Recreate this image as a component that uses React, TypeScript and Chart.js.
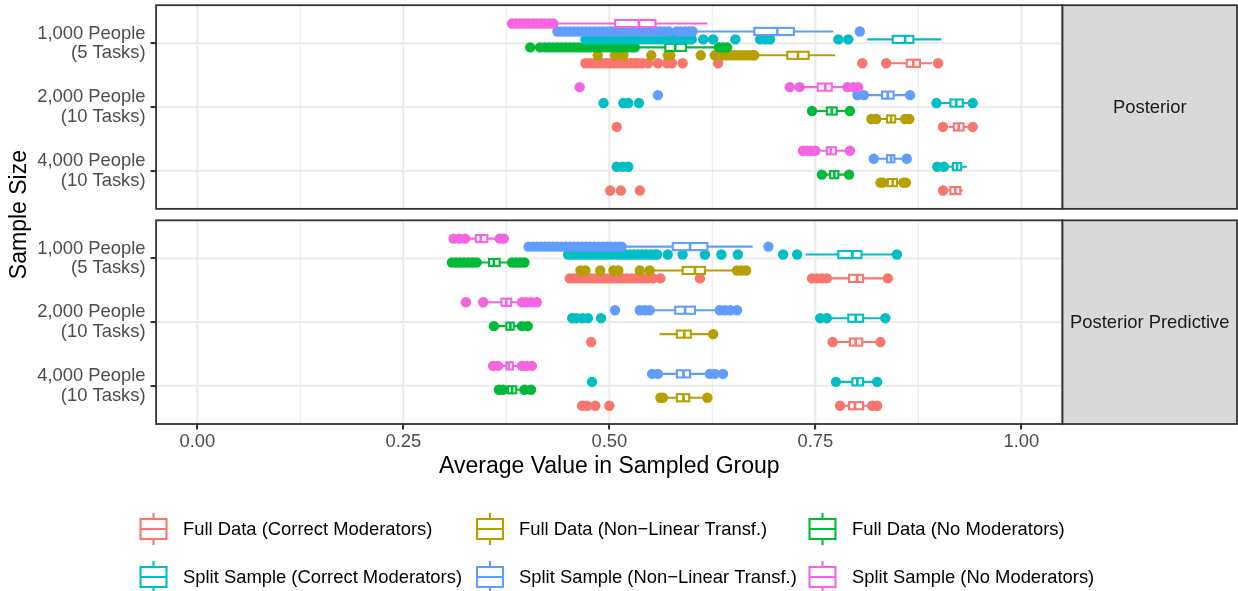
import React, { useEffect, useRef } from "react";
import { Chart, registerables } from "chart.js";

Chart.register(...registerables);

// ---------------- data ----------------
const SAMPLE_SIZES: string[][] = [
  ["1,000 People", "(5 Tasks)"],
  ["2,000 People", "(10 Tasks)"],
  ["4,000 People", "(10 Tasks)"],
];
const PANELS = ["Posterior", "Posterior Predictive"];
const GROUPS = [
  "Full Data (Correct Moderators)",
  "Full Data (Non\u2212Linear Transf.)",
  "Full Data (No Moderators)",
  "Split Sample (Correct Moderators)",
  "Split Sample (Non\u2212Linear Transf.)",
  "Split Sample (No Moderators)",
];
const COLORS = ["#F8766D", "#B79F00", "#00BA38", "#00BFC4", "#619CFF", "#F564E3"];
const X_TICKS = [0, 0.25, 0.5, 0.75, 1];
const X_MINOR = [0.125, 0.375, 0.625, 0.875];
const X_TITLE = "Average Value in Sampled Group";
const Y_TITLE = "Sample Size";

// box stats per sample size: [lower whisker, q1, median, q3, upper whisker]
// ---- Posterior ----
const FULL_CORRECT_POST_BOX = [
  [0.841, 0.861, 0.869, 0.877, 0.892],
  [0.912, 0.918, 0.924, 0.930, 0.935],
  [0.909, 0.914, 0.920, 0.926, 0.929],
];
const FULL_CORRECT_POST_OUT = [
  [0.471, 0.476, 0.481, 0.486, 0.491, 0.496, 0.501, 0.506, 0.511, 0.516, 0.521, 0.526, 0.531, 0.535, 0.540, 0.547, 0.559, 0.570, 0.576, 0.589, 0.632, 0.807, 0.836, 0.899],
  [0.509, 0.905, 0.941],
  [0.501, 0.514, 0.537, 0.905],
];
const FULL_NONLIN_POST_BOX = [
  [0.679, 0.716, 0.729, 0.742, 0.774],
  [0.826, 0.837, 0.842, 0.847, 0.855],
  [0.834, 0.838, 0.844, 0.849, 0.854],
];
const FULL_NONLIN_POST_OUT = [
  [0.486, 0.507, 0.517, 0.551, 0.571, 0.574, 0.611, 0.628, 0.633, 0.638, 0.643, 0.648, 0.653, 0.658, 0.663, 0.668, 0.673, 0.676],
  [0.818, 0.824, 0.859, 0.864],
  [0.829, 0.832, 0.857, 0.860],
];
const FULL_NOMOD_POST_BOX = [
  [0.534, 0.568, 0.580, 0.593, 0.628],
  [0.750, 0.764, 0.770, 0.776, 0.787],
  [0.762, 0.768, 0.773, 0.778, 0.787],
];
const FULL_NOMOD_POST_OUT = [
  [0.404, 0.416, 0.422, 0.427, 0.432, 0.437, 0.442, 0.447, 0.452, 0.457, 0.462, 0.467, 0.472, 0.477, 0.483, 0.488, 0.493, 0.498, 0.503, 0.508, 0.513, 0.518, 0.523, 0.528, 0.531, 0.633, 0.638, 0.643],
  [0.746, 0.792],
  [0.758, 0.791],
];
const SPLIT_CORRECT_POST_BOX = [
  [0.813, 0.844, 0.859, 0.869, 0.903],
  [0.901, 0.914, 0.921, 0.929, 0.936],
  [0.911, 0.917, 0.922, 0.927, 0.934],
];
const SPLIT_CORRECT_POST_OUT = [
  [0.471, 0.476, 0.481, 0.486, 0.491, 0.496, 0.501, 0.506, 0.511, 0.516, 0.521, 0.526, 0.531, 0.536, 0.541, 0.546, 0.551, 0.556, 0.561, 0.566, 0.571, 0.576, 0.581, 0.586, 0.591, 0.596, 0.600, 0.614, 0.626, 0.653, 0.683, 0.689, 0.695, 0.778, 0.790],
  [0.493, 0.517, 0.523, 0.536, 0.897, 0.941],
  [0.509, 0.516, 0.523, 0.898, 0.906],
];
const SPLIT_NONLIN_POST_BOX = [
  [0.605, 0.676, 0.704, 0.724, 0.772],
  [0.811, 0.831, 0.838, 0.845, 0.860],
  [0.825, 0.837, 0.842, 0.846, 0.856],
];
const SPLIT_NONLIN_POST_OUT = [
  [0.437, 0.442, 0.447, 0.452, 0.457, 0.462, 0.467, 0.472, 0.477, 0.482, 0.487, 0.492, 0.497, 0.502, 0.507, 0.512, 0.517, 0.522, 0.527, 0.532, 0.537, 0.542, 0.547, 0.552, 0.557, 0.562, 0.567, 0.572, 0.582, 0.587, 0.592, 0.597, 0.601, 0.804],
  [0.559, 0.801, 0.809, 0.865],
  [0.821, 0.861],
];
const SPLIT_NOMOD_POST_BOX = [
  [0.437, 0.507, 0.536, 0.556, 0.619],
  [0.735, 0.753, 0.762, 0.770, 0.786],
  [0.752, 0.764, 0.769, 0.775, 0.787],
];
const SPLIT_NOMOD_POST_OUT = [
  [0.382, 0.387, 0.392, 0.397, 0.402, 0.407, 0.412, 0.417, 0.422, 0.427, 0.432],
  [0.464, 0.719, 0.731, 0.789, 0.796, 0.802],
  [0.735, 0.740, 0.745, 0.750, 0.792],
];

// ---- Posterior Predictive ----
const FULL_CORRECT_PRED_BOX = [
  [0.769, 0.791, 0.801, 0.808, 0.834],
  [0.775, 0.792, 0.799, 0.807, 0.826],
  [0.782, 0.791, 0.798, 0.808, 0.816],
];
const FULL_CORRECT_PRED_OUT = [
  [0.452, 0.457, 0.462, 0.467, 0.472, 0.477, 0.482, 0.487, 0.492, 0.497, 0.502, 0.507, 0.512, 0.517, 0.522, 0.527, 0.532, 0.537, 0.542, 0.547, 0.553, 0.562, 0.610, 0.746, 0.752, 0.758, 0.764, 0.838],
  [0.478, 0.771, 0.829],
  [0.467, 0.473, 0.483, 0.500, 0.780, 0.819, 0.825],
];
const FULL_NONLIN_PRED_BOX = [
  [0.552, 0.589, 0.604, 0.616, 0.652],
  [0.561, 0.582, 0.591, 0.599, 0.622],
  [0.567, 0.582, 0.590, 0.597, 0.615],
];
const FULL_NONLIN_PRED_OUT = [
  [0.465, 0.471, 0.489, 0.505, 0.511, 0.537, 0.549, 0.655, 0.660, 0.666],
  [0.626],
  [0.562, 0.565, 0.619],
];
const FULL_NOMOD_PRED_BOX = [
  [0.341, 0.354, 0.360, 0.367, 0.379],
  [0.362, 0.375, 0.380, 0.384, 0.392],
  [0.372, 0.377, 0.382, 0.387, 0.393],
];
const FULL_NOMOD_PRED_OUT = [
  [0.309, 0.314, 0.319, 0.324, 0.329, 0.334, 0.339, 0.382, 0.387, 0.392, 0.397],
  [0.360, 0.394, 0.401],
  [0.366, 0.371, 0.397, 0.405],
];
const SPLIT_CORRECT_PRED_BOX = [
  [0.738, 0.778, 0.795, 0.806, 0.845],
  [0.768, 0.790, 0.799, 0.808, 0.832],
  [0.778, 0.795, 0.801, 0.808, 0.822],
];
const SPLIT_CORRECT_PRED_OUT = [
  [0.450, 0.455, 0.460, 0.465, 0.470, 0.475, 0.480, 0.485, 0.490, 0.495, 0.500, 0.505, 0.510, 0.515, 0.520, 0.525, 0.530, 0.535, 0.540, 0.545, 0.550, 0.555, 0.558, 0.571, 0.589, 0.616, 0.636, 0.656, 0.711, 0.728, 0.849],
  [0.455, 0.460, 0.467, 0.474, 0.490, 0.756, 0.764, 0.835],
  [0.479, 0.775, 0.825],
];
const SPLIT_NONLIN_PRED_BOX = [
  [0.519, 0.577, 0.598, 0.619, 0.674],
  [0.552, 0.580, 0.592, 0.604, 0.632],
  [0.561, 0.582, 0.590, 0.598, 0.620],
];
const SPLIT_NONLIN_PRED_OUT = [
  [0.402, 0.407, 0.412, 0.417, 0.422, 0.427, 0.432, 0.437, 0.442, 0.447, 0.452, 0.457, 0.462, 0.467, 0.472, 0.477, 0.482, 0.487, 0.492, 0.497, 0.502, 0.507, 0.512, 0.515, 0.693],
  [0.507, 0.537, 0.543, 0.549, 0.634, 0.640, 0.647, 0.655],
  [0.552, 0.559, 0.622, 0.628, 0.638],
];
const SPLIT_NOMOD_PRED_BOX = [
  [0.327, 0.338, 0.344, 0.352, 0.365],
  [0.349, 0.369, 0.375, 0.381, 0.392],
  [0.366, 0.375, 0.378, 0.383, 0.392],
];
const SPLIT_NOMOD_PRED_OUT = [
  [0.311, 0.318, 0.325, 0.367, 0.372],
  [0.326, 0.347, 0.394, 0.399, 0.405, 0.412],
  [0.359, 0.365, 0.394, 0.400, 0.406],
];

// table [panel][group] built from the arrays above
const BOX_TABLE = [
  [FULL_CORRECT_POST_BOX, FULL_NONLIN_POST_BOX, FULL_NOMOD_POST_BOX, SPLIT_CORRECT_POST_BOX, SPLIT_NONLIN_POST_BOX, SPLIT_NOMOD_POST_BOX],
  [FULL_CORRECT_PRED_BOX, FULL_NONLIN_PRED_BOX, FULL_NOMOD_PRED_BOX, SPLIT_CORRECT_PRED_BOX, SPLIT_NONLIN_PRED_BOX, SPLIT_NOMOD_PRED_BOX],
];
const OUT_TABLE = [
  [FULL_CORRECT_POST_OUT, FULL_NONLIN_POST_OUT, FULL_NOMOD_POST_OUT, SPLIT_CORRECT_POST_OUT, SPLIT_NONLIN_POST_OUT, SPLIT_NOMOD_POST_OUT],
  [FULL_CORRECT_PRED_OUT, FULL_NONLIN_PRED_OUT, FULL_NOMOD_PRED_OUT, SPLIT_CORRECT_PRED_OUT, SPLIT_NONLIN_PRED_OUT, SPLIT_NOMOD_PRED_OUT],
];

// ---------------- layout / style ----------------
const W = 1238;
const H = 591;
const FONT = '"Liberation Sans", Arial, Helvetica, sans-serif';
const SMALL = 18.4;
const BIG = 23;
const X_MIN = -0.05;
const X_MAX = 1.05;
const EXPAND = 0.6;
const GAP = 0.18;
const DODGE = 0.125;
const BOX_HALF = 0.056;
const PANEL_SPAN = SAMPLE_SIZES.length - 1 + 2 * EXPAND;
const PANEL_STEP = PANEL_SPAN + GAP;
const Y_MIN = -EXPAND;
const Y_MAX = -EXPAND + PANEL_STEP * (PANELS.length - 1) + PANEL_SPAN;
const catPos = (p: number, c: number) => p * PANEL_STEP + c;
const groupPos = (p: number, c: number, g: number) =>
  catPos(p, c) + ((GROUPS.length - 1) / 2 - g) * DODGE;
const panelTop = (p: number) => -EXPAND + p * PANEL_STEP;
const panelBottom = (p: number) => panelTop(p) + PANEL_SPAN;

const Y_TICK_VALUES: number[] = [];
const Y_TICK_LABELS: string[][] = [];
PANELS.forEach((_, p) =>
  SAMPLE_SIZES.forEach((lab, c) => {
    Y_TICK_VALUES.push(catPos(p, c));
    Y_TICK_LABELS.push(lab);
  })
);

const GRID = "#EBEBEB";
const DARK = "#333333";
const LW = 2.1;

function panelRect(chart: any, p: number) {
  const { x, y } = chart.scales;
  const left = x.getPixelForValue(X_MIN);
  const right = x.getPixelForValue(X_MAX);
  const top = y.getPixelForValue(panelTop(p));
  const bottom = y.getPixelForValue(panelBottom(p));
  return { left, right, top, bottom };
}

const facetPlugin = {
  id: "facets",
  beforeDatasetsDraw(chart: any) {
    const { ctx } = chart;
    const { x, y } = chart.scales;
    ctx.save();
    PANELS.forEach((_, p) => {
      const r = panelRect(chart, p);
      ctx.fillStyle = "#FFFFFF";
      ctx.fillRect(r.left, r.top, r.right - r.left, r.bottom - r.top);
      ctx.strokeStyle = GRID;
      ctx.lineWidth = 1.05;
      X_MINOR.forEach((v) => {
        const px = x.getPixelForValue(v);
        ctx.beginPath();
        ctx.moveTo(px, r.top);
        ctx.lineTo(px, r.bottom);
        ctx.stroke();
      });
      ctx.lineWidth = LW;
      X_TICKS.forEach((v) => {
        const px = x.getPixelForValue(v);
        ctx.beginPath();
        ctx.moveTo(px, r.top);
        ctx.lineTo(px, r.bottom);
        ctx.stroke();
      });
      SAMPLE_SIZES.forEach((_, c) => {
        const py = y.getPixelForValue(catPos(p, c));
        ctx.beginPath();
        ctx.moveTo(r.left, py);
        ctx.lineTo(r.right, py);
        ctx.stroke();
      });
    });
    ctx.restore();
  },
  afterDatasetDraw(chart: any, args: any) {
    const g = args.index;
    const { ctx } = chart;
    const { x, y } = chart.scales;
    const color = COLORS[g];
    ctx.save();
    PANELS.forEach((_, p) => {
      BOX_TABLE[p][g].forEach((s, c) => {
        const [lo, q1, med, q3, hi] = s;
        const pos = groupPos(p, c, g);
        const yc = y.getPixelForValue(pos);
        const y0 = y.getPixelForValue(pos - BOX_HALF);
        const y1 = y.getPixelForValue(pos + BOX_HALF);
        const xq1 = x.getPixelForValue(q1);
        const xq3 = x.getPixelForValue(q3);
        ctx.fillStyle = "#FFFFFF";
        ctx.fillRect(xq1, y0, xq3 - xq1, y1 - y0);
        ctx.strokeStyle = color;
        ctx.lineWidth = LW;
        ctx.strokeRect(xq1, y0, xq3 - xq1, y1 - y0);
        const xm = x.getPixelForValue(med);
        ctx.lineWidth = 2.6;
        ctx.beginPath();
        ctx.moveTo(xm, y0);
        ctx.lineTo(xm, y1);
        ctx.stroke();
        ctx.lineWidth = LW;
        ctx.beginPath();
        ctx.moveTo(x.getPixelForValue(lo), yc);
        ctx.lineTo(xq1, yc);
        ctx.moveTo(xq3, yc);
        ctx.lineTo(x.getPixelForValue(hi), yc);
        ctx.stroke();
      });
    });
    ctx.restore();
  },
  afterDraw(chart: any) {
    const { ctx } = chart;
    ctx.save();
    PANELS.forEach((name, p) => {
      const r = panelRect(chart, p);
      ctx.strokeStyle = DARK;
      ctx.lineWidth = 1.8;
      ctx.strokeRect(r.left, r.top, r.right - r.left, r.bottom - r.top);
      const sl = r.right;
      const sr = W - 1;
      ctx.fillStyle = "#D9D9D9";
      ctx.fillRect(sl, r.top, sr - sl, r.bottom - r.top);
      ctx.strokeRect(sl, r.top, sr - sl, r.bottom - r.top);
      ctx.fillStyle = "#1A1A1A";
      ctx.font = `${SMALL}px ${FONT}`;
      ctx.textAlign = "center";
      ctx.textBaseline = "middle";
      ctx.fillText(name, (sl + sr) / 2, (r.top + r.bottom) / 2 + 1);
    });
    const r0 = panelRect(chart, 0);
    const r1 = panelRect(chart, PANELS.length - 1);
    ctx.fillStyle = "#000000";
    ctx.font = `${BIG}px ${FONT}`;
    ctx.textAlign = "center";
    ctx.textBaseline = "middle";
    ctx.fillText(X_TITLE, (r1.left + r1.right) / 2, 467);
    ctx.save();
    ctx.translate(20, (r0.top + r1.bottom) / 2);
    ctx.rotate(-Math.PI / 2);
    ctx.fillText(Y_TITLE, 0, 0);
    ctx.restore();
    // legend
    const keyX = [153.5, 490, 822.5];
    const textX = [183, 519, 852];
    const rowY = [529, 577];
    GROUPS.forEach((name, g) => {
      const col = g % 3;
      const row = Math.floor(g / 3);
      const cx = keyX[col];
      const cy = rowY[row];
      ctx.strokeStyle = COLORS[g];
      ctx.lineWidth = LW;
      ctx.fillStyle = "#FFFFFF";
      const bw = 26;
      const bh = 20;
      ctx.fillRect(cx - bw / 2, cy - bh / 2, bw, bh);
      ctx.strokeRect(cx - bw / 2, cy - bh / 2, bw, bh);
      ctx.beginPath();
      ctx.moveTo(cx - bw / 2, cy);
      ctx.lineTo(cx + bw / 2, cy);
      ctx.moveTo(cx, cy - 16);
      ctx.lineTo(cx, cy - bh / 2);
      ctx.moveTo(cx, cy + bh / 2);
      ctx.lineTo(cx, cy + 16);
      ctx.stroke();
      ctx.fillStyle = "#000000";
      ctx.font = `${SMALL}px ${FONT}`;
      ctx.textAlign = "left";
      ctx.textBaseline = "middle";
      ctx.fillText(name, textX[col], cy + 1);
    });
    ctx.restore();
  },
};

export default function App() {
  const ref = useRef<HTMLCanvasElement | null>(null);
  useEffect(() => {
    if (!ref.current) return;
    const datasets = GROUPS.map((name, g) => {
      const data: { x: number; y: number }[] = [];
      PANELS.forEach((_, p) => {
        OUT_TABLE[p][g].forEach((vals, c) => {
          vals.forEach((v) => data.push({ x: v, y: groupPos(p, c, g) }));
        });
      });
      return {
        label: name,
        data,
        order: GROUPS.length - 1 - g,
        pointRadius: 5.2,
        pointHoverRadius: 5.2,
        pointBorderWidth: 0,
        pointBackgroundColor: COLORS[g],
        backgroundColor: COLORS[g],
        borderColor: COLORS[g],
      };
    });
    const chart = new Chart(ref.current, {
      type: "scatter",
      data: { datasets },
      options: {
        animation: false,
        responsive: false,
        maintainAspectRatio: false,
        devicePixelRatio: 1,
        events: [],
        layout: { padding: { top: 3.7, left: 0, right: W - 1062.5, bottom: 122 } },
        plugins: { legend: { display: false }, tooltip: { enabled: false }, title: { display: false } },
        scales: {
          x: {
            type: "linear",
            position: "bottom",
            bounds: "data",
            min: X_MIN,
            max: X_MAX,
            afterBuildTicks: (s: any) => {
              s.ticks = X_TICKS.map((v) => ({ value: v }));
            },
            afterFit: (s: any) => {
              s.height = 45;
              s.paddingLeft = 0;
              s.paddingRight = 0;
            },
            ticks: {
              autoSkip: false,
              maxRotation: 0,
              minRotation: 0,
              padding: 1,
              color: "#4D4D4D",
              font: { family: FONT, size: SMALL },
              callback: (v: any) => Number(v).toFixed(2),
            },
            grid: { display: true, drawOnChartArea: false, drawTicks: true, tickLength: 5.5, color: DARK, lineWidth: LW },
            border: { display: false },
          },
          y: {
            type: "linear",
            position: "left",
            reverse: true,
            bounds: "data",
            min: Y_MIN,
            max: Y_MAX,
            afterBuildTicks: (s: any) => {
              s.ticks = Y_TICK_VALUES.map((v) => ({ value: v }));
            },
            afterFit: (s: any) => {
              s.width = 156.1;
              s.paddingTop = 0;
              s.paddingBottom = 0;
            },
            ticks: {
              autoSkip: false,
              padding: 5,
              color: "#4D4D4D",
              font: { family: FONT, size: SMALL, lineHeight: 1.06 },
              callback: (_v: any, i: number) => Y_TICK_LABELS[i],
            },
            grid: { display: true, drawOnChartArea: false, drawTicks: true, tickLength: 5.5, color: DARK, lineWidth: LW },
            border: { display: false },
          },
        },
      } as any,
      plugins: [facetPlugin],
    });
    return () => chart.destroy();
  }, []);
  return (
    <div style={{ position: "absolute", left: 0, top: 0, width: W, height: H, background: "#FFFFFF" }}>
      <canvas ref={ref} width={W} height={H} style={{ display: "block", width: W, height: H }} />
    </div>
  );
}
